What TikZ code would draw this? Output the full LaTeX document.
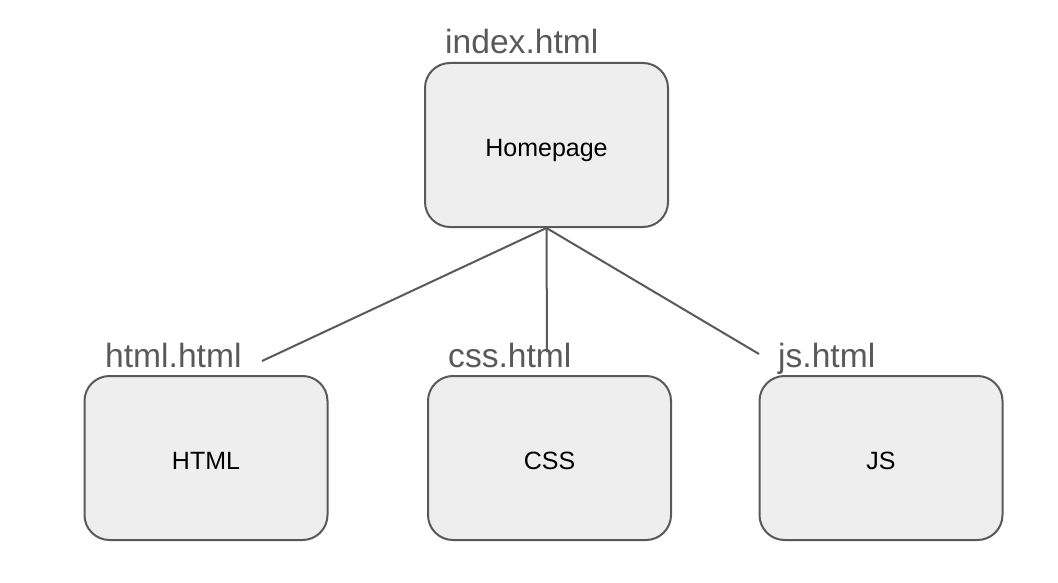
\documentclass[tikz,border=0pt]{standalone}
\usepackage{fontspec}
\setmainfont{Liberation Sans}
\usetikzlibrary{positioning}
\usetikzlibrary{calc}

\definecolor{edge}{HTML}{595959}
\definecolor{boxfill}{HTML}{EEEEEE}

\tikzset{
  page/.style={draw=edge, fill=boxfill, line width=2pt, rounded corners=25pt,
    minimum width=243pt, minimum height=164pt, inner sep=0pt,
    text height=23pt, text depth=0pt,
    font=\fontsize{25}{30}\selectfont},
  fname/.style={anchor=base west, inner sep=0pt, text=edge,
    font=\fontsize{33.6}{40}\selectfont},
  link/.style={draw=edge, line width=2pt}
}

\begin{document}
\begin{tikzpicture}[x=1pt, y=-1pt]
      \useasboundingbox (0,0) rectangle (1058,583);
      \node[page] (home) at (546.5,145) {Homepage};
      \node[page] (html) at (206,458) {HTML};
      \node[page] (css) at (549.5,458) {CSS};
      \node[page] (js) at (881,458) {JS};

      \node[fname] (homename) at (445,54) {index.html};
      \node[fname] (htmlname) at (105,367) {html.html};
      \node[fname] (cssname) at (448,367) {css.html};
      \node[fname] (jsname) at (778,367) {js.html};

      \coordinate (htmlend) at (262,361);
      \coordinate (cssend) at (547,352);
      \coordinate (jsend) at (759,354);
      \draw[link] (home.south) -- (htmlend);
      \draw[link] (home.south) -- (cssend);
      \draw[link] (home.south) -- (jsend);
    \end{tikzpicture}
\end{document}
